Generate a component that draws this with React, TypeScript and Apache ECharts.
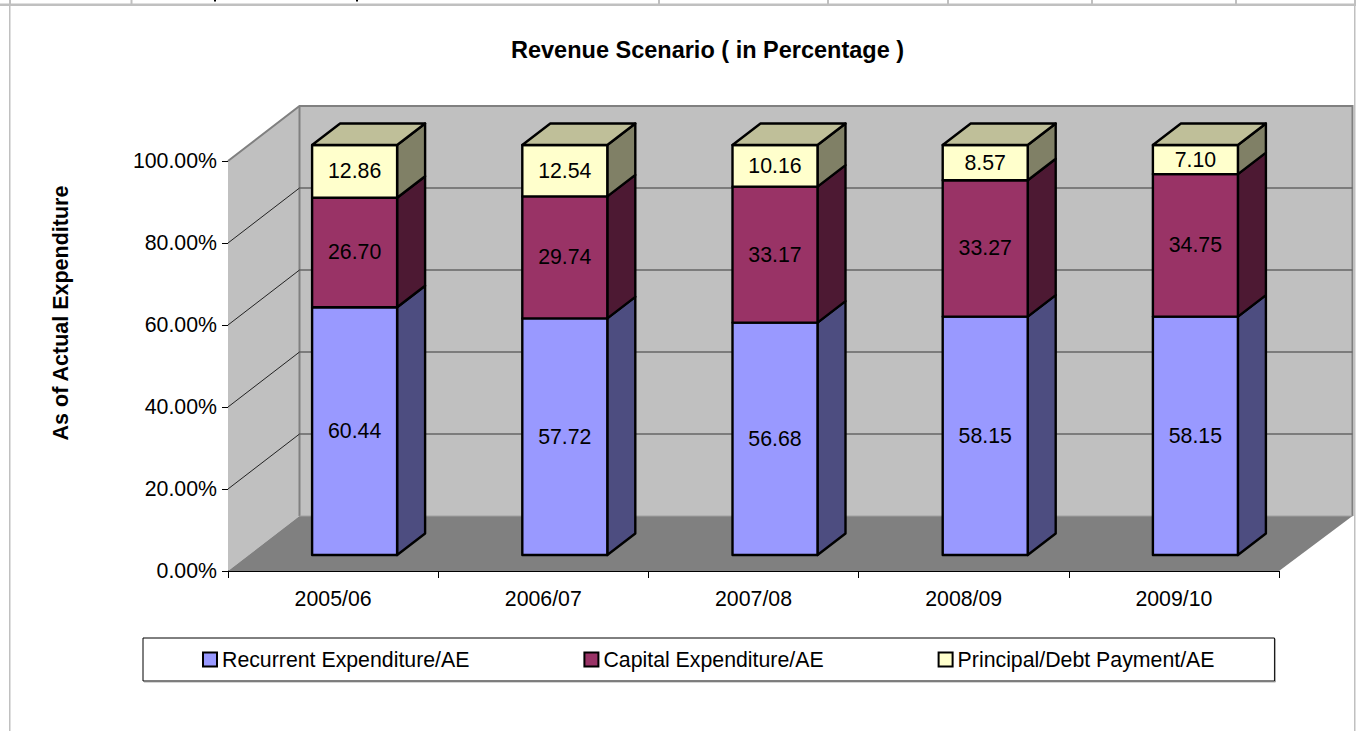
import React, { useEffect, useRef } from "react";
import * as echarts from "echarts";

const categories = ["2005/06", "2006/07", "2007/08", "2008/09", "2009/10"];
const recurrent = [60.44, 57.72, 56.68, 58.15, 58.15];
const capital = [26.7, 29.74, 33.17, 33.27, 34.75];
const principal = [12.86, 12.54, 10.16, 8.57, 7.1];
const yTicks = [0, 20, 40, 60, 80, 100];
const seriesNames = ["Recurrent Expenditure/AE", "Capital Expenditure/AE", "Principal/Debt Payment/AE"];
const titleText = "Revenue Scenario ( in Percentage )";
const yAxisTitle = "As of Actual Expenditure";

const FONT = '"Liberation Sans", Arial, sans-serif';
const LABEL_SIZE = 21.3;
const WALL_DX = 71.5;
const WALL_DY = 55;
const WALL_RIGHT_EXTRA = 2;
const BAR_FRONT_DX = 21.5;
const BAR_FRONT_DY = 16;
const BAR_DEPTH_DX = 28;
const BAR_DEPTH_DY = 21.5;
const BAR_WIDTH = 85;

function segmentData(values: number[], below: number[]) {
  return values.map((v, i) => [i, below[i], below[i] + v, v]);
}

function barRenderer(front: string, side: string, top: string | null) {
  return (params: any, api: any) => {
    const i = api.value(0);
    const low = api.coord([i, api.value(1)]);
    const high = api.coord([i, api.value(2)]);
    const x0 = low[0] + BAR_FRONT_DX - BAR_WIDTH / 2;
    const x1 = x0 + BAR_WIDTH;
    const yb = low[1] - BAR_FRONT_DY;
    const yt = high[1] - BAR_FRONT_DY;
    const line = { stroke: "#000", lineWidth: 2.4, lineJoin: "round" };
    const children: any[] = [
      {
        type: "polygon",
        shape: { points: [[x1, yt], [x1 + BAR_DEPTH_DX, yt - BAR_DEPTH_DY], [x1 + BAR_DEPTH_DX, yb - BAR_DEPTH_DY], [x1, yb]] },
        style: { fill: side, ...line },
      },
      { type: "rect", shape: { x: x0, y: yt, width: BAR_WIDTH, height: yb - yt }, style: { fill: front, ...line } },
    ];
    if (top) {
      children.push({
        type: "polygon",
        shape: { points: [[x0, yt], [x0 + BAR_DEPTH_DX, yt - BAR_DEPTH_DY], [x1 + BAR_DEPTH_DX, yt - BAR_DEPTH_DY], [x1, yt]] },
        style: { fill: top, ...line },
      });
    }
    children.push({
      type: "text",
      x: (x0 + x1) / 2,
      y: (yt + yb) / 2,
      style: {
        text: api.value(3).toFixed(2),
        fill: "#000",
        font: `${LABEL_SIZE}px ${FONT}`,
        align: "center",
        verticalAlign: "middle",
        textAlign: "center",
        textVerticalAlign: "middle",
      },
    });
    return { type: "group", children };
  };
}

function wallRenderer(params: any, api: any) {
  const cs = params.coordSys;
  const L = cs.x;
  const R = cs.x + cs.width;
  const B = cs.y + cs.height;
  const T = cs.y;
  const BR = R + WALL_DX + WALL_RIGHT_EXTRA;
  const y = api.coord([0, api.value(0)])[1];
  const children: any[] = [];
  if (params.dataIndex === 0) {
    children.push(
      { type: "polygon", shape: { points: [[L + WALL_DX, T - WALL_DY], [BR, T - WALL_DY], [BR, B - WALL_DY], [L + WALL_DX, B - WALL_DY]] }, style: { fill: "#c0c0c0" } },
      { type: "polygon", shape: { points: [[L, T], [L + WALL_DX, T - WALL_DY], [L + WALL_DX, B - WALL_DY], [L, B]] }, style: { fill: "#c0c0c0" } },
      { type: "polygon", shape: { points: [[L, B], [R, B], [BR, B - WALL_DY], [L + WALL_DX, B - WALL_DY]] }, style: { fill: "#808080" } },
      { type: "polyline", shape: { points: [[L, T], [L + WALL_DX, T - WALL_DY], [BR, T - WALL_DY], [BR, B - WALL_DY]] }, style: { fill: "none", stroke: "#808080", lineWidth: 2 } },
      { type: "line", shape: { x1: L + WALL_DX, y1: T - WALL_DY, x2: L + WALL_DX, y2: B - WALL_DY }, style: { stroke: "#808080", lineWidth: 2 } },
      { type: "line", shape: { x1: L + WALL_DX, y1: B - WALL_DY, x2: BR, y2: B - WALL_DY }, style: { stroke: "#a0a0a0", lineWidth: 1 } },
    );
  }
  const v = api.value(0);
  if (v > 0 && v < 100) {
    children.push(
      { type: "line", shape: { x1: L + WALL_DX, y1: y - WALL_DY, x2: BR, y2: y - WALL_DY }, style: { stroke: "#666", lineWidth: 1.4 } },
      { type: "line", shape: { x1: L, y1: y, x2: L + WALL_DX, y2: y - WALL_DY }, style: { stroke: "#222", lineWidth: 1 } },
    );
  }
  return { type: "group", children };
}

const frameTicks = [10, 131.5, 659, 828, 948, 1092, 1236, 1355];
const inkMarks = [215, 357];

export default function App() {
  const ref = useRef<HTMLDivElement>(null);
  useEffect(() => {
    document.body.style.margin = "0";
    const chart = echarts.init(ref.current!, null, { renderer: "svg" });
    const bottoms0 = categories.map(() => 0);
    const bottoms1 = recurrent;
    const bottoms2 = recurrent.map((v, i) => v + capital[i]);
    const gray = "#c0c0c0";
    chart.setOption({
      animation: false,
      backgroundColor: "#fff",
      title: {
        text: titleText,
        left: 511,
        top: 38,
        padding: 0,
        textStyle: { fontFamily: FONT, fontSize: 23.5, fontWeight: "bold", color: "#000" },
      },
      grid: { left: 228, top: 161, width: 1051, height: 410, containLabel: false },
      xAxis: {
        type: "category",
        data: categories,
        boundaryGap: true,
        axisLine: { show: true, lineStyle: { color: "#000", width: 1 } },
        axisTick: { show: true, alignWithLabel: false, length: 7, lineStyle: { color: "#000", width: 1 } },
        axisLabel: { color: "#000", fontFamily: FONT, fontSize: LABEL_SIZE, margin: 17, interval: 0 },
        splitLine: { show: false },
      },
      yAxis: {
        type: "value",
        min: 0,
        max: 100,
        interval: 20,
        name: yAxisTitle,
        nameLocation: "middle",
        nameGap: 156,
        nameRotate: 90,
        nameTextStyle: { color: "#000", fontFamily: FONT, fontSize: 21.5, fontWeight: "bold", padding: [0, 0, 0, 106] },
        axisLine: { show: true, lineStyle: { color: "#000", width: 1 } },
        axisTick: { show: true, length: 6, lineStyle: { color: "#000", width: 1 } },
        axisLabel: { color: "#000", fontFamily: FONT, fontSize: LABEL_SIZE, margin: 11, formatter: (v: number) => `${v.toFixed(2)}%` },
        splitLine: { show: false },
      },
      legend: {
        data: seriesNames,
        left: 143,
        top: 638,
        width: 1131,
        itemWidth: 14,
        itemHeight: 14,
        itemGap: 114,
        icon: "rect",
        padding: [11, 60, 11, 59],
        backgroundColor: "#fff",
        borderColor: "#000",
        borderWidth: 1,
        shadowColor: "#aaa",
        shadowOffsetX: 1,
        shadowOffsetY: 1,
        shadowBlur: 0,
        selectedMode: false,
        itemStyle: { borderColor: "#000", borderWidth: 2 },
        textStyle: { color: "#000", fontFamily: FONT, fontSize: LABEL_SIZE, padding: [0, 0, 0, 0] },
      },
      series: [
        { type: "custom", name: "walls", silent: true, data: yTicks.map((v) => [v]), encode: { y: 0 }, renderItem: wallRenderer, z: 1 },
        { type: "custom", name: seriesNames[0], silent: true, data: segmentData(recurrent, bottoms0), encode: { x: 0, y: 2 }, itemStyle: { color: "#9999ff" }, renderItem: barRenderer("#9999ff", "#4d4d80", null), z: 2 },
        { type: "custom", name: seriesNames[1], silent: true, data: segmentData(capital, bottoms1), encode: { x: 0, y: 2 }, itemStyle: { color: "#993366" }, renderItem: barRenderer("#993366", "#4d1933", null), z: 3 },
        { type: "custom", name: seriesNames[2], silent: true, data: segmentData(principal, bottoms2), encode: { x: 0, y: 2 }, itemStyle: { color: "#ffffcc" }, renderItem: barRenderer("#ffffcc", "#808066", "#bfbf99"), z: 4 },
      ],
      graphic: [
        { type: "rect", silent: true, shape: { x: 0, y: 3.5, width: 1356, height: 2.5 }, style: { fill: gray } },
        { type: "rect", silent: true, shape: { x: 9, y: 5, width: 1.5, height: 726 }, style: { fill: gray } },
        { type: "rect", silent: true, shape: { x: 1354, y: 5, width: 1.5, height: 726 }, style: { fill: gray } },
        ...frameTicks.map((x) => ({ type: "rect", silent: true, shape: { x: x - 1, y: 0, width: 2, height: 4 }, style: { fill: gray } })),
        ...inkMarks.map((x) => ({ type: "rect", silent: true, shape: { x: x - 1, y: 0, width: 2, height: 1.5 }, style: { fill: "#000" } })),
      ],
    });
    return () => chart.dispose();
  }, []);
  return <div ref={ref} style={{ position: "absolute", left: 0, top: 0, width: 1359, height: 731 }} />;
}
